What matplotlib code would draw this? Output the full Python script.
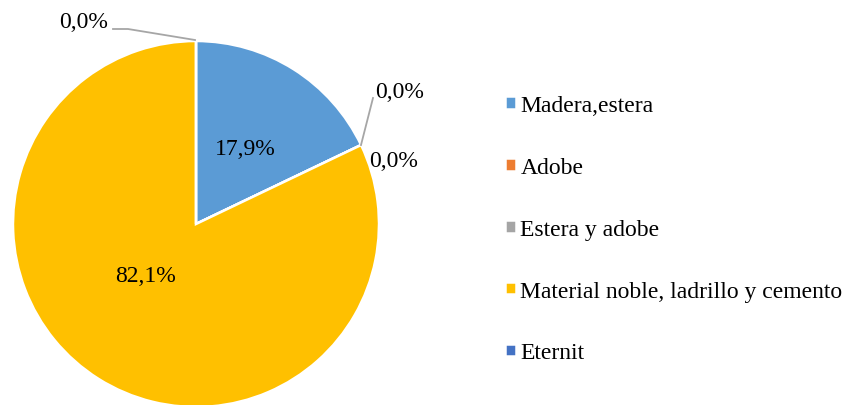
import matplotlib.pyplot as plt

plt.rcParams['font.family'] = ['Liberation Serif', 'DejaVu Serif']

categories = ['Madera,estera', 'Adobe', 'Estera y adobe',
              'Material noble, ladrillo y cemento', 'Eternit']
percent = [17.9, 0.0, 0.0, 82.1, 0.0]
colors = ['#5B9BD5', '#ED7D31', '#A5A5A5', '#FFC000', '#4472C4']

W, H = 851, 406
fig = plt.figure(figsize=(W / 100, H / 100), dpi=100)
ax = fig.add_axes([0, 0, 1, 1])

cx, cy, r = 196, H - 225, 183
wedges, _ = ax.pie(percent, colors=colors, startangle=90, counterclock=False,
                   center=(cx, cy), radius=r, frame=True,
                   wedgeprops=dict(edgecolor='white', linewidth=1.8))
ax.set_xlim(0, W)
ax.set_ylim(0, H)
ax.set_aspect('equal')
ax.axis('off')

def fmt(v):
    return f'{v:.1f}%'.replace('.', ',')

fs = 17
# labels inside the two visible slices
ax.text(245, H - 150, fmt(percent[0]), ha='center', va='center', fontsize=fs)
ax.text(145, H - 277, fmt(percent[3]), ha='center', va='center', fontsize=fs)

# zero-valued slices: labels outside, two with leader lines
lc = '#A6A6A6'
ax.plot([113, 128, 195], [H - 30, H - 30, H - 41], color=lc, lw=1.3)
ax.text(84, H - 22, fmt(percent[4]), ha='center', va='center', fontsize=fs)
ax.plot([373, 361], [H - 99, H - 146], color=lc, lw=1.3)
ax.text(400, H - 93, fmt(percent[1]), ha='center', va='center', fontsize=fs)
ax.text(394, H - 162, fmt(percent[2]), ha='center', va='center', fontsize=fs)

ax.legend(wedges, categories, loc='upper left', bbox_to_anchor=(505 / W, 1 - 96 / H),
          frameon=False, fontsize=fs, handlelength=0.45, handleheight=0.45,
          handletextpad=0.2, labelspacing=1.73, borderpad=0, borderaxespad=0)

fig.savefig('out.png', dpi=100)
